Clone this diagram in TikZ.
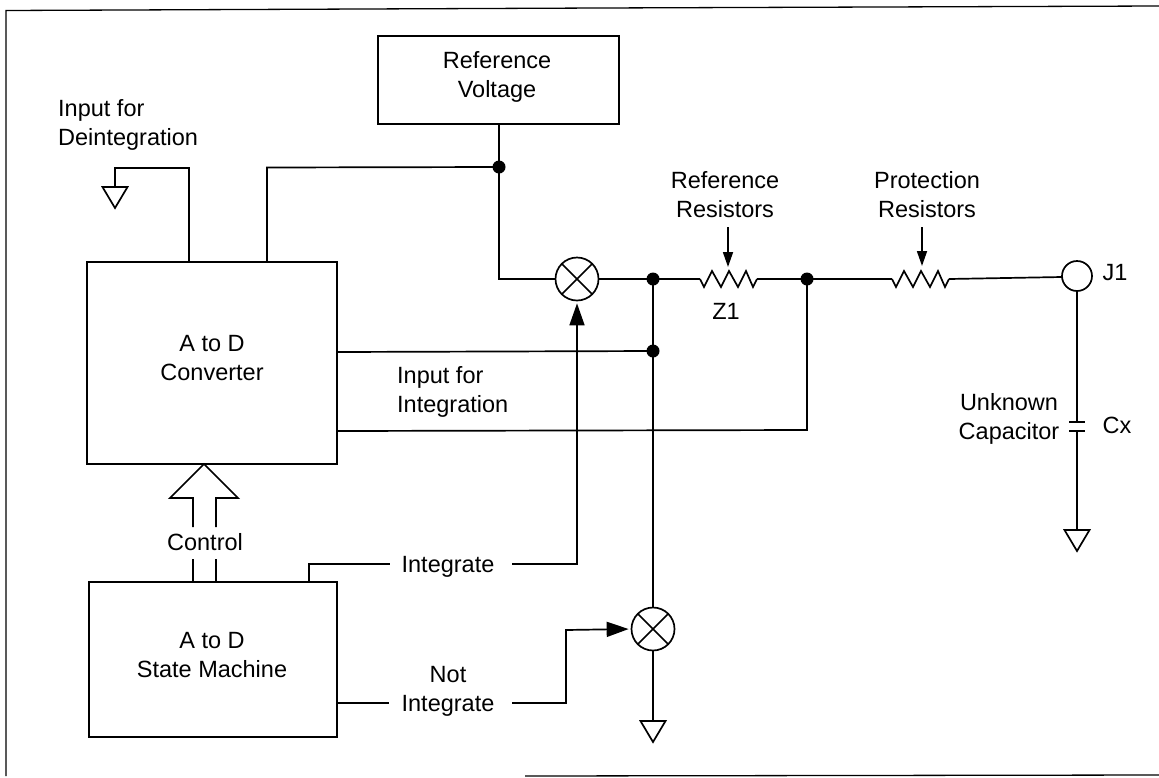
\documentclass[tikz,border=0pt]{standalone}
\usepackage{fontspec}
\setmainfont{Liberation Sans}
\usetikzlibrary{arrows.meta}
\tikzset{x=1pt,y=-1pt,
 wire/.style={line width=1.7pt,line join=miter},
 thinbox/.style={draw,line width=1.2pt,inner sep=0pt},
 lbl/.style={font=\fontsize{23.5}{29}\selectfont,align=center,inner sep=0pt,text=black},
 dot/.style={circle,fill=black,inner sep=0pt,minimum size=13pt},
 jack/.style={circle,draw,line width=1.7pt,fill=white,inner sep=0pt,minimum size=30pt},
 mixer/.style={circle,draw,line width=1.7pt,fill=white,inner sep=0pt,minimum size=43pt,path picture={
   \draw[line width=1.7pt] (path picture bounding box.north west)--(path picture bounding box.south east)
   (path picture bounding box.north east)--(path picture bounding box.south west);}},
 bighead/.style={-{Triangle[length=22pt,width=15pt]},shorten >=2pt},
 smallhead/.style={-{Triangle[length=15pt,width=10pt]}}
}
\newcommand{\groundsym}[1]{\draw[wire] (#1) ++(-12.5,0) -- ++(25,0) -- ++(-12.5,21) -- cycle;}
\begin{document}
\begin{tikzpicture}
\useasboundingbox (0,0) rectangle (1159,777);
\draw[line width=1.3pt] (6,776) -- (6,10.5) -- (600,8) -- (1159,6);
\draw[line width=1.3pt] (525,776) -- (1159,775);
% boxes
\node[thinbox,minimum width=250pt,minimum height=202pt] (adc) at (212,363) {};
\node[thinbox,minimum width=248pt,minimum height=155pt] (sm) at (213,659.5) {};
\node[thinbox,minimum width=241pt,minimum height=88pt] (ref) at (498.5,80) {};
\node[lbl] (adct) at (212,358) {A to D\\Converter};
\node[lbl] (smt) at (212,655) {A to D\\State Machine};
\node[lbl] (reft) at (497,77) {Reference\\Voltage};
% symbols
\node[mixer] (m1) at (577,279) {};
\node[mixer] (m2) at (653,629) {};
\node[jack] (j1) at (1077,276) {};
\node[dot] (d1) at (499,167) {};
\node[dot] (d2) at (653,279) {};
\node[dot] (d3) at (653,351) {};
\node[dot] (d4) at (807,279) {};
% labels
\node[lbl,align=left,anchor=west] (l1) at (58,125) {Input for\\Deintegration};
\node[lbl] (l2) at (725,195) {Reference\\Resistors};
\node[lbl] (l3) at (927,195) {Protection\\Resistors};
\node[lbl] (z1) at (726,311) {Z1};
\node[lbl] (j1t) at (1115,273) {J1};
\node[lbl] (cx) at (1117,425) {Cx};
\node[lbl] (uc) at (1009,419) {Unknown\\Capacitor};
\node[lbl,align=left,anchor=west] (ii) at (397,392) {Input for\\Integration};
\node[lbl] (ctl) at (205,542) {Control};
\node[lbl] (int) at (448,567) {Integrate};
\node[lbl] (nint) at (448,691) {Not\\Integrate};
% coordinates
\coordinate (g0) at (115,187);
\coordinate (g1) at (653,721);
\coordinate (g2) at (1077,530);
\coordinate (r1a) at (700,279);
\coordinate (r2a) at (892,279);
\coordinate (r1b) at (757,279);
\coordinate (r2b) at (949,279);
\coordinate (c1) at (1077,422);
\coordinate (c2) at (1077,431);
\coordinate (a1s) at (728,227);
\coordinate (a1e) at (728,267);
\coordinate (a2s) at (922,227);
\coordinate (a2e) at (922,266);
% wires
\draw[wire] (189,262) -- (189,168) -- (115,168) -- (g0);
\draw[wire] (267,262) -- (267,167.5) -- (d1.center);
\draw[wire] (499,124) -- (d1.center) -- (499,279) -- (m1.west);
\draw[wire] (m1.east) -- (d2.center) -- (r1a);
\draw[wire] (r1b) -- (d4.center) -- (r2a);
\draw[wire] (r2b) -- (1062,277);
\draw[wire] (d2.center) -- (m2.north);
\draw[wire] (337,352) -- (d3.center);
\draw[wire] (337,431) -- (807,430) -- (d4.center);
\draw[wire] (m2.south) -- (g1);
\draw[wire] (j1.south) -- (c1);
\draw[wire] (c2) -- (g2);
\draw[wire] (1069,422) -- (1085,422);
\draw[wire] (1069,431) -- (1085,431);
\groundsym{g0}
\groundsym{g1}
\groundsym{g2}
% resistors
\foreach \p in {r1a,r2a}{
 \draw[wire] (\p) -- ++(4,8) -- ++(8,-16) -- ++(9,16) -- ++(8,-16) -- ++(9,16) -- ++(8,-16) -- ++(7,16) -- ++(4,-8);
}
% arrows
\draw[wire,smallhead] (a1s) -- (a1e);
\draw[wire,smallhead] (a2s) -- (a2e);
\draw[wire,bighead] (512,564) -- (577,564) -- (m1.south);
\draw[wire] (309,582) -- (309,564) -- (390,564);
\draw[wire] (337,703) -- (389,703);
\draw[wire,bighead] (512,703) -- (566,703) -- (566,630) -- (m2.west);
% big arrow
\draw[wire] (193,527) -- (193,498) -- (170,498) -- (204,464) -- (238,498) -- (216,498) -- (216,527);
\draw[wire] (193,559) -- (193,582);
\draw[wire] (216,559) -- (216,582);
\end{tikzpicture}
\end{document}
